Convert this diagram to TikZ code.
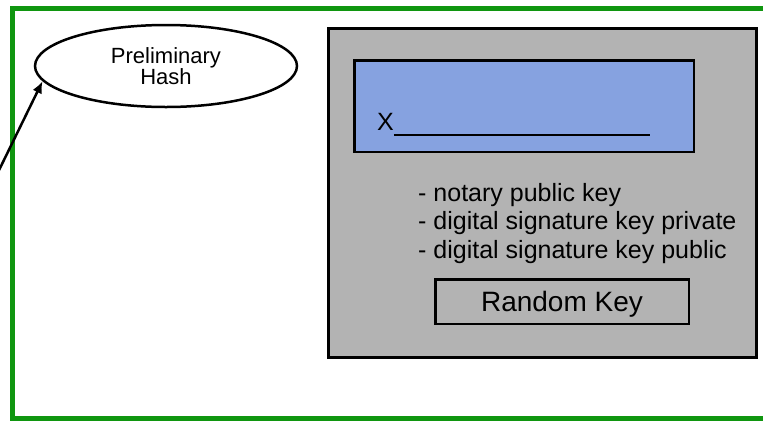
\documentclass[tikz,border=0pt]{standalone}
\usepackage{fontspec}
\setmainfont{Liberation Sans}
\usetikzlibrary{arrows.meta,shapes.geometric}

\definecolor{framegreen}{RGB}{16,150,16}
\definecolor{cardgrey}{RGB}{179,179,179}
\definecolor{sigblue}{RGB}{134,162,224}

\begin{document}
\begin{tikzpicture}[x=1pt, y=-1pt,
		box/.style={draw, inner sep=0pt},
		listline/.style={anchor=base west, inner sep=0pt, font=\fontsize{25}{28}\selectfont}]
			\useasboundingbox (0, 0) rectangle (763, 421);
			\clip (0, 0) rectangle (763, 421);
			
			% Outer frame (open on the right)
			\draw[line width=5pt, framegreen] (780, 8.5) -- (12.5, 8.5) -- (12.5, 418) -- (780, 418);
			
			% Hash
			\node[ellipse, draw, line width=2.5pt, minimum width=262pt, minimum height=82pt,
				align=center, font=\fontsize{22}{21}\selectfont] (hash) at (166, 66) {Preliminary\\Hash};
			
			\coordinate (src) at (-20, 209);
			\draw[-{Latex[length=12pt, width=10pt]}, line width=2.5pt] (src) -- (hash.187.5);
			
			% Card
			\node[box, line width=3pt, fill=cardgrey, minimum width=428pt, minimum height=329pt] (card) at (542.5, 193) {};
			
			% Signature field
			\node[box, line width=2.5pt, fill=sigblue, minimum width=339.5pt, minimum height=91.5pt] (sig) at (524, 106) {};
			\node[listline] (xmark) at (377, 130) {X\rule[-6pt]{256pt}{2.5pt}};
			
			% Keys
			\node[listline] (notary) at (418, 201) {- notary public key};
			\node[listline] (sigpriv) at (418, 229.5) {- digital signature key private};
			\node[listline] (sigpub) at (418, 258) {- digital signature key public};
			
			% Random key
			\node[box, line width=2.5pt, minimum width=253.5pt, minimum height=44.5pt,
				text height=20pt, text depth=0pt, font=\fontsize{28}{30}\selectfont] (randkey) at (562, 301.5) {Random Key};
			
		\end{tikzpicture}
\end{document}
